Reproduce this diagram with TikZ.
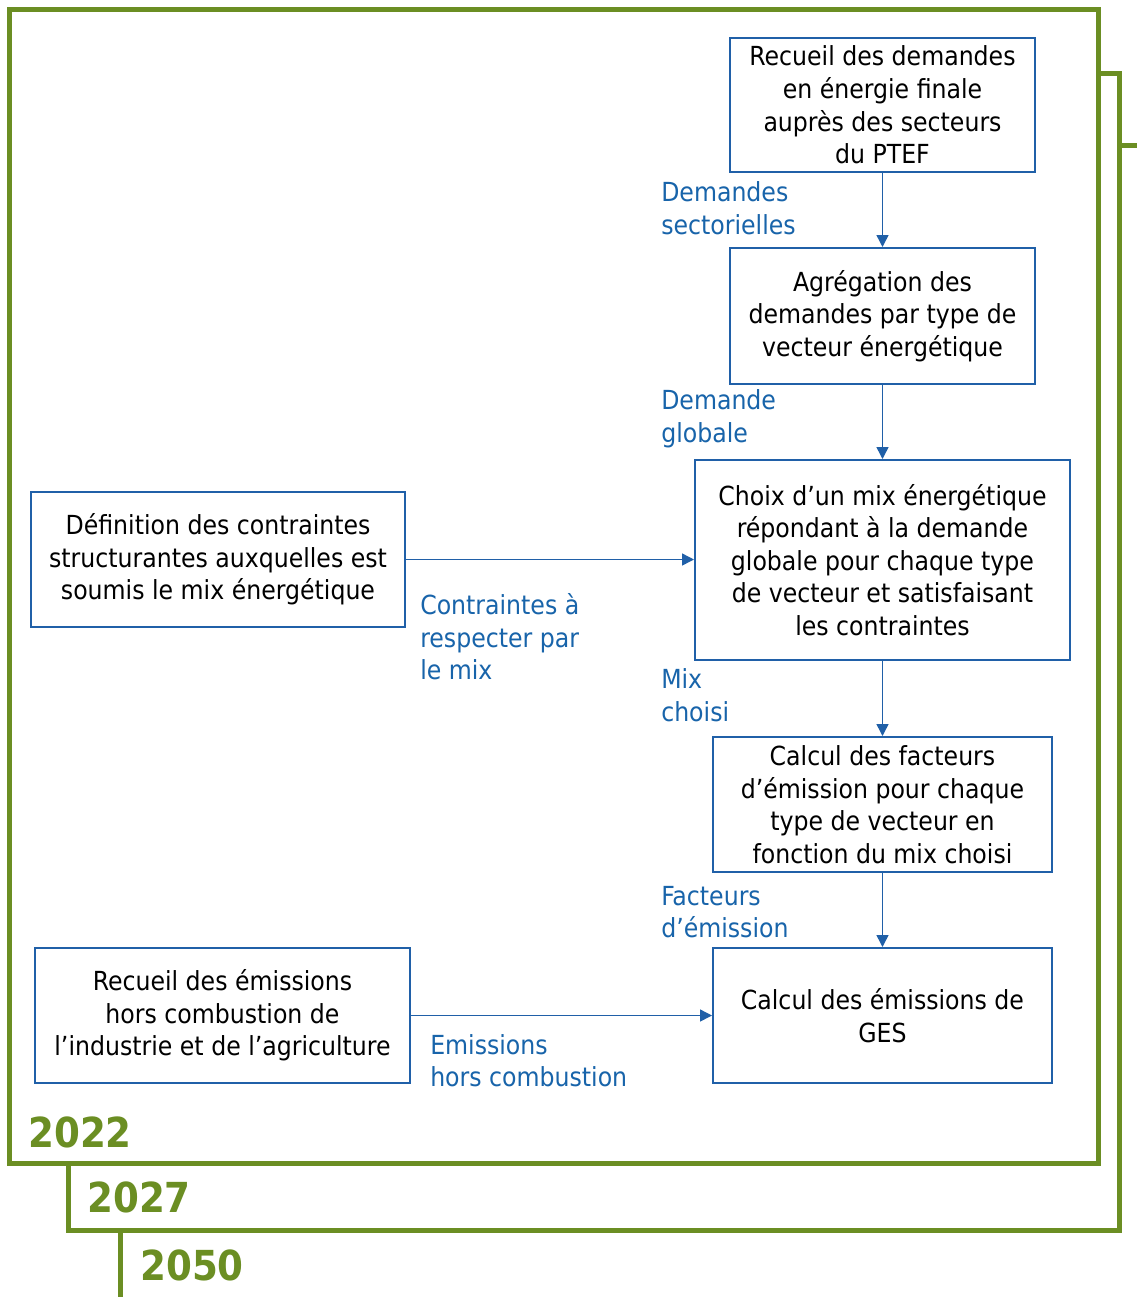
\documentclass[tikz,border=0pt]{standalone}
\usepackage{fontspec}
\setmainfont{DejaVu Sans Condensed}
\usetikzlibrary{arrows.meta, positioning}
\definecolor{frameGreen}{RGB}{107,142,35}
\definecolor{boxBlue}{RGB}{32,96,168}
\definecolor{labelBlue}{RGB}{24,100,170}
\tikzset{
  stepbox/.style={draw=boxBlue, line width=1.5pt, fill=white, align=center, inner sep=0pt, font=\fontsize{19.7}{24.4}\selectfont},
  flow/.style={draw=boxBlue, line width=1.1pt, -{Triangle[length=9pt,width=9pt]}},
  flowlabel/.style={text=labelBlue, align=left, inner sep=0pt, anchor=west, font=\fontsize{19.7}{24.4}\selectfont},
  yearframe/.style={draw=frameGreen, line width=3.75pt, fill=white},
  yearlabel/.style={text=frameGreen, inner sep=0pt, anchor=base west, font=\fontsize{31}{34}\selectfont\bfseries}
}

\begin{document}
\begin{tikzpicture}[x=0.75pt,y=0.75pt,yscale=-1,xscale=1]
\useasboundingbox (0,0) rectangle (1137,1297);

%Frames (one per horizon)
\draw [yearframe] (120,145) rectangle (1180,1340);
\draw [yearframe] (68,73) rectangle (1119,1230);
\draw [yearframe] (9,9) rectangle (1098,1163);

% Year labels
\node (y2022) [yearlabel] at (28,1147) {2022};
\node (y2027) [yearlabel] at (87,1212) {2027};
\node (y2050) [yearlabel] at (140,1280) {2050};

%Boxes
\node (recueil) [stepbox, minimum width=228.75pt, minimum height=100.5pt] at (882.5,105) {Recueil des demandes\\en énergie finale\\auprès des secteurs\\du PTEF};
\node (agregation) [stepbox, minimum width=228.75pt, minimum height=102pt] at (882.5,316) {Agrégation des\\demandes par type de\\vecteur énergétique};
\node (choix) [stepbox, minimum width=281.25pt, minimum height=150pt] at (882.5,560) {Choix d’un mix énergétique\\répondant à la demande\\globale pour chaque type\\de vecteur et satisfaisant\\les contraintes};
\node (facteurs) [stepbox, minimum width=254.25pt, minimum height=101.25pt] at (882.5,804.5) {Calcul des facteurs\\d’émission pour chaque\\type de vecteur en\\fonction du mix choisi};
\node (emissions) [stepbox, minimum width=254.25pt, minimum height=101.25pt] at (882.5,1015.5) {Calcul des émissions de\\GES};
\node (contraintes) [stepbox, minimum width=280.5pt, minimum height=101.25pt] at (218,559.5) {Définition des contraintes\\structurantes auxquelles est\\soumis le mix énergétique};
\node (horscomb) [stepbox, minimum width=281.25pt, minimum height=101.25pt] at (222.5,1015.5) {Recueil des émissions\\hors combustion de\\l’industrie et de l’agriculture};

%Connectors
\draw [flow] (recueil) -- (agregation);
\draw [flow] (agregation) -- (choix);
\draw [flow] (choix) -- (facteurs);
\draw [flow] (facteurs) -- (emissions);
\draw [flow] (contraintes.east) -- (contraintes.east -| choix.west);
\draw [flow] (horscomb.east) -- (horscomb.east -| emissions.west);

% Connector labels
\node (lblSect) [flowlabel] at (661,208) {Demandes\\sectorielles};
\node (lblGlob) [flowlabel] at (661,419) {Demande\\globale};
\node (lblMix) [flowlabel] at (661,695) {Mix\\choisi};
\node (lblFact) [flowlabel] at (661,912) {Facteurs\\d’émission};
\node (lblContr) [flowlabel] at (420,637) {Contraintes à\\respecter par\\le mix};
\node (lblHors) [flowlabel] at (430,1060.5) {Emissions\\hors combustion};

\end{tikzpicture}
\end{document}
